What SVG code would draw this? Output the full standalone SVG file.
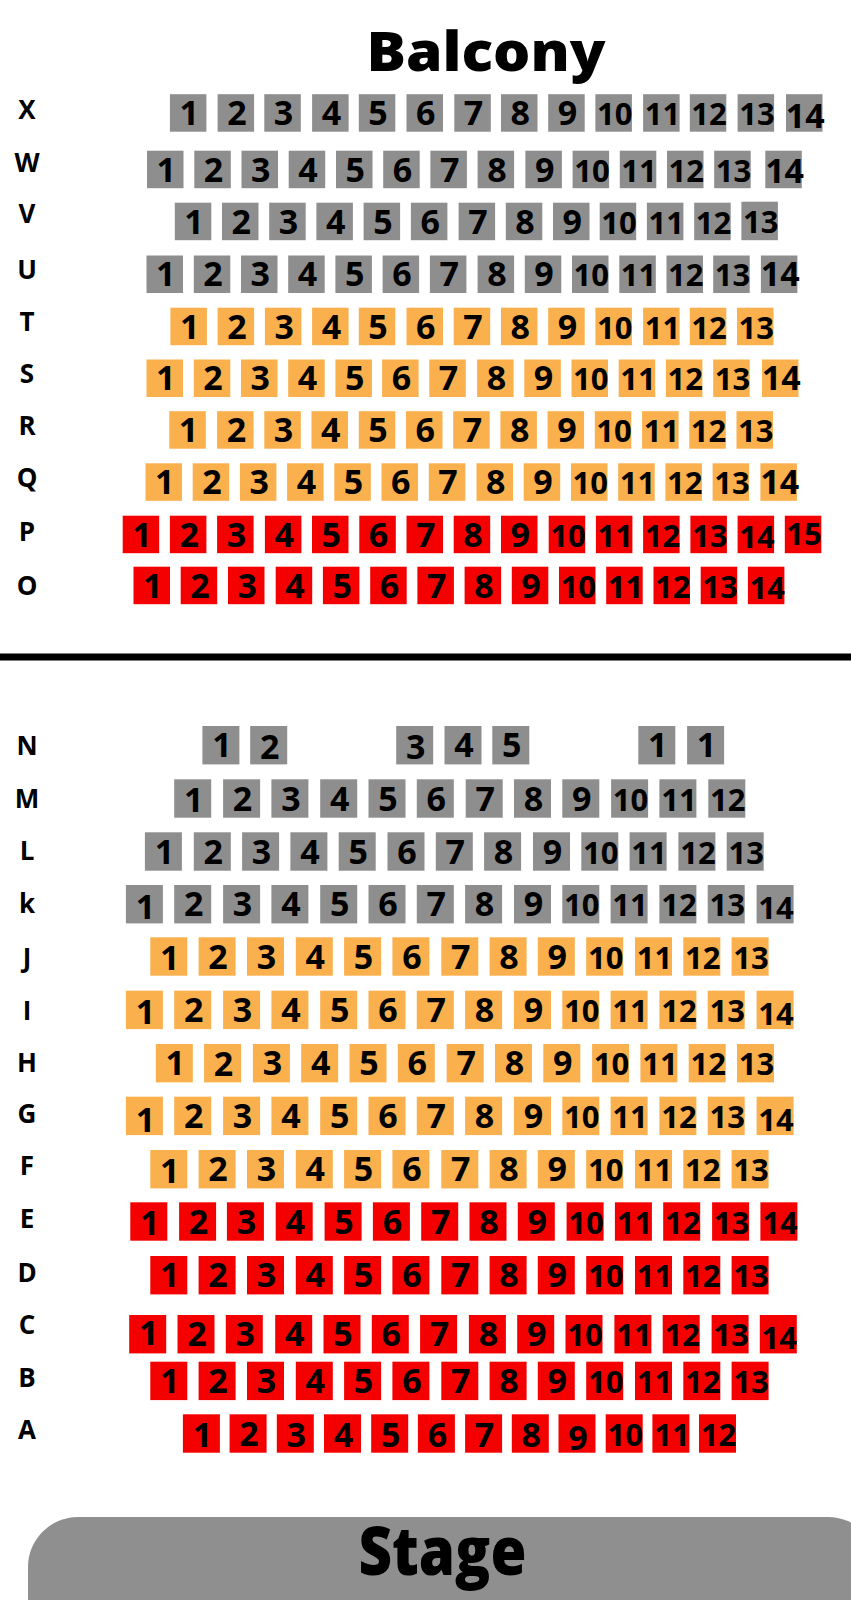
<svg xmlns="http://www.w3.org/2000/svg" width="851" height="1600" viewBox="0 0 851 1600">
<style>
text{font-family:"Open Sans","Liberation Sans",sans-serif;font-weight:700;fill:#000}
.g{fill:#8e8e8e}.o{fill:#fbb04e}.r{fill:#f50000}
.seats text{font-size:34px;text-anchor:middle}
.seats text.d{font-size:31px}
.lbl text{font-size:26px;text-anchor:middle}
.title{font-weight:800;text-anchor:middle}
</style>
<rect width="851" height="1600" fill="#fff"/>
<g id="title"><text class="title" x="486" y="71" font-size="55" textLength="239" lengthAdjust="spacingAndGlyphs">Balcony</text></g>
<g id="labels" class="lbl">
<text x="27" y="119">X</text><text x="27" y="172">W</text><text x="27" y="223">V</text><text x="27" y="279">U</text><text x="27" y="331">T</text><text x="27" y="383">S</text><text x="27" y="435">R</text><text x="27" y="487">Q</text><text x="27" y="541">P</text><text x="27" y="595">O</text>
<text x="27" y="755">N</text><text x="27" y="808">M</text><text x="27" y="860">L</text><text x="27" y="913">k</text><text x="27" y="967">J</text><text x="27" y="1020">I</text><text x="27" y="1072">H</text><text x="27" y="1123">G</text><text x="27" y="1175">F</text><text x="27" y="1228">E</text><text x="27" y="1282">D</text><text x="27" y="1334">C</text><text x="27" y="1387">B</text><text x="27" y="1439">A</text>
</g>
<g id="divider"><rect x="0" y="653.5" width="851" height="7" fill="#000"/></g>
<g id="connectors"></g>
<g class="seats">
<g id="row-X">
<g id="X1" transform="translate(169.9,94.2)"><rect class="g" width="36.5" height="37.5"/><text x="19.3" y="30.8">1</text></g>
<g id="X2" transform="translate(217.6,94.2)"><rect class="g" width="36.5" height="37.5"/><text x="19.3" y="30.8">2</text></g>
<g id="X3" transform="translate(264.3,94.2)"><rect class="g" width="36.5" height="37.5"/><text x="19.3" y="30.8">3</text></g>
<g id="X4" transform="translate(312.1,94.2)"><rect class="g" width="36.5" height="37.5"/><text x="19.3" y="30.8">4</text></g>
<g id="X5" transform="translate(358.8,94.2)"><rect class="g" width="36.5" height="37.5"/><text x="19.3" y="30.8">5</text></g>
<g id="X6" transform="translate(406.5,94.2)"><rect class="g" width="36.5" height="37.5"/><text x="19.3" y="30.8">6</text></g>
<g id="X7" transform="translate(454.3,94.2)"><rect class="g" width="36.5" height="37.5"/><text x="19.3" y="30.8">7</text></g>
<g id="X8" transform="translate(501,94.2)"><rect class="g" width="36.5" height="37.5"/><text x="19.3" y="30.8">8</text></g>
<g id="X9" transform="translate(548.2,94.2)"><rect class="g" width="36.5" height="37.5"/><text x="19.3" y="30.8">9</text></g>
<g id="X10" transform="translate(595.4,94.2)"><rect class="g" width="36.5" height="37.5"/><text class="d" x="19.3" y="30.8">10</text></g>
<g id="X11" transform="translate(643.1,94.2)"><rect class="g" width="36.5" height="37.5"/><text class="d" x="19.3" y="30.8">11</text></g>
<g id="X12" transform="translate(689.8,94.2)"><rect class="g" width="36.5" height="37.5"/><text class="d" x="19.3" y="30.8">12</text></g>
<g id="X13" transform="translate(737.6,94.2)"><rect class="g" width="36.5" height="37.5"/><text class="d" x="19.3" y="30.8">13</text></g>
<g id="X14" transform="translate(786,94.2)"><rect class="g" width="36.5" height="37.5"/><text x="19.3" y="33.8">14</text></g>
</g>
<g id="row-W">
<g id="W1" transform="translate(147,150.7)"><rect class="g" width="36.5" height="37.5"/><text x="19.3" y="30.8">1</text></g>
<g id="W2" transform="translate(194.3,150.7)"><rect class="g" width="36.5" height="37.5"/><text x="19.3" y="30.8">2</text></g>
<g id="W3" transform="translate(241.5,150.7)"><rect class="g" width="36.5" height="37.5"/><text x="19.3" y="30.8">3</text></g>
<g id="W4" transform="translate(288.7,150.7)"><rect class="g" width="36.5" height="37.5"/><text x="19.3" y="30.8">4</text></g>
<g id="W5" transform="translate(336,150.7)"><rect class="g" width="36.5" height="37.5"/><text x="19.3" y="30.8">5</text></g>
<g id="W6" transform="translate(383.2,150.7)"><rect class="g" width="36.5" height="37.5"/><text x="19.3" y="30.8">6</text></g>
<g id="W7" transform="translate(430.4,150.7)"><rect class="g" width="36.5" height="37.5"/><text x="19.3" y="30.8">7</text></g>
<g id="W8" transform="translate(477.6,150.7)"><rect class="g" width="36.5" height="37.5"/><text x="19.3" y="30.8">8</text></g>
<g id="W9" transform="translate(525.4,150.7)"><rect class="g" width="36.5" height="37.5"/><text x="19.3" y="30.8">9</text></g>
<g id="W10" transform="translate(572.6,150.7)"><rect class="g" width="36.5" height="37.5"/><text class="d" x="19.3" y="30.8">10</text></g>
<g id="W11" transform="translate(619.8,150.7)"><rect class="g" width="36.5" height="37.5"/><text class="d" x="19.3" y="30.8">11</text></g>
<g id="W12" transform="translate(667,150.7)"><rect class="g" width="36.5" height="37.5"/><text class="d" x="19.3" y="30.8">12</text></g>
<g id="W13" transform="translate(714.2,150.7)"><rect class="g" width="36.5" height="37.5"/><text class="d" x="19.3" y="30.8">13</text></g>
<g id="W14" transform="translate(765.3,150.7)"><rect class="g" width="36.5" height="37.5"/><text x="19.3" y="32.5">14</text></g>
</g>
<g id="row-V">
<g id="V1" transform="translate(174.8,202.7)"><rect class="g" width="36.5" height="37.5"/><text x="19.3" y="30.8">1</text></g>
<g id="V2" transform="translate(222,202.7)"><rect class="g" width="36.5" height="37.5"/><text x="19.3" y="30.8">2</text></g>
<g id="V3" transform="translate(269.2,202.7)"><rect class="g" width="36.5" height="37.5"/><text x="19.3" y="30.8">3</text></g>
<g id="V4" transform="translate(316.4,202.7)"><rect class="g" width="36.5" height="37.5"/><text x="19.3" y="30.8">4</text></g>
<g id="V5" transform="translate(363.6,202.7)"><rect class="g" width="36.5" height="37.5"/><text x="19.3" y="30.8">5</text></g>
<g id="V6" transform="translate(410.9,202.7)"><rect class="g" width="36.5" height="37.5"/><text x="19.3" y="30.8">6</text></g>
<g id="V7" transform="translate(458.6,202.7)"><rect class="g" width="36.5" height="37.5"/><text x="19.3" y="30.8">7</text></g>
<g id="V8" transform="translate(505.8,202.7)"><rect class="g" width="36.5" height="37.5"/><text x="19.3" y="30.8">8</text></g>
<g id="V9" transform="translate(553,202.7)"><rect class="g" width="36.5" height="37.5"/><text x="19.3" y="30.8">9</text></g>
<g id="V10" transform="translate(599.7,202.7)"><rect class="g" width="36.5" height="37.5"/><text class="d" x="19.3" y="30.8">10</text></g>
<g id="V11" transform="translate(646.9,202.7)"><rect class="g" width="36.5" height="37.5"/><text class="d" x="19.3" y="30.8">11</text></g>
<g id="V12" transform="translate(694.2,202.7)"><rect class="g" width="36.5" height="37.5"/><text class="d" x="19.3" y="30.8">12</text></g>
<g id="V13" transform="translate(741.4,201.7)"><rect class="g" width="36.5" height="38.5"/><text class="d" x="19.3" y="31.3">13</text></g>
</g>
<g id="row-U">
<g id="U1" transform="translate(146.5,255.5)"><rect class="g" width="36.5" height="37.5"/><text x="19.3" y="30.8">1</text></g>
<g id="U2" transform="translate(193.8,255.5)"><rect class="g" width="36.5" height="37.5"/><text x="19.3" y="30.8">2</text></g>
<g id="U3" transform="translate(241,255.5)"><rect class="g" width="36.5" height="37.5"/><text x="19.3" y="30.8">3</text></g>
<g id="U4" transform="translate(288.2,255.5)"><rect class="g" width="36.5" height="37.5"/><text x="19.3" y="30.8">4</text></g>
<g id="U5" transform="translate(335.4,255.5)"><rect class="g" width="36.5" height="37.5"/><text x="19.3" y="30.8">5</text></g>
<g id="U6" transform="translate(382.6,255.5)"><rect class="g" width="36.5" height="37.5"/><text x="19.3" y="30.8">6</text></g>
<g id="U7" transform="translate(429.9,255.5)"><rect class="g" width="36.5" height="37.5"/><text x="19.3" y="30.8">7</text></g>
<g id="U8" transform="translate(477.6,255.5)"><rect class="g" width="36.5" height="37.5"/><text x="19.3" y="30.8">8</text></g>
<g id="U9" transform="translate(524.8,255.5)"><rect class="g" width="36.5" height="37.5"/><text x="19.3" y="30.8">9</text></g>
<g id="U10" transform="translate(572,255.5)"><rect class="g" width="36.5" height="37.5"/><text class="d" x="19.3" y="30.8">10</text></g>
<g id="U11" transform="translate(619.3,255.5)"><rect class="g" width="36.5" height="37.5"/><text class="d" x="19.3" y="30.8">11</text></g>
<g id="U12" transform="translate(666.5,255.5)"><rect class="g" width="36.5" height="37.5"/><text class="d" x="19.3" y="30.8">12</text></g>
<g id="U13" transform="translate(713.2,255.5)"><rect class="g" width="36.5" height="37.5"/><text class="d" x="19.3" y="30.8">13</text></g>
<g id="U14" transform="translate(760.9,255.5)"><rect class="g" width="36.5" height="37.5"/><text x="19.3" y="30.8">14</text></g>
</g>
<g id="row-T">
<g id="T1" transform="translate(170.4,307.7)"><rect class="o" width="36.5" height="37.5"/><text x="19.3" y="30.8">1</text></g>
<g id="T2" transform="translate(217.6,307.7)"><rect class="o" width="36.5" height="37.5"/><text x="19.3" y="30.8">2</text></g>
<g id="T3" transform="translate(264.9,307.7)"><rect class="o" width="36.5" height="37.5"/><text x="19.3" y="30.8">3</text></g>
<g id="T4" transform="translate(312.1,307.7)"><rect class="o" width="36.5" height="37.5"/><text x="19.3" y="30.8">4</text></g>
<g id="T5" transform="translate(358.8,307.7)"><rect class="o" width="36.5" height="37.5"/><text x="19.3" y="30.8">5</text></g>
<g id="T6" transform="translate(406.5,307.7)"><rect class="o" width="36.5" height="37.5"/><text x="19.3" y="30.8">6</text></g>
<g id="T7" transform="translate(453.7,307.7)"><rect class="o" width="36.5" height="37.5"/><text x="19.3" y="30.8">7</text></g>
<g id="T8" transform="translate(501,307.7)"><rect class="o" width="36.5" height="37.5"/><text x="19.3" y="30.8">8</text></g>
<g id="T9" transform="translate(548.2,307.7)"><rect class="o" width="36.5" height="37.5"/><text x="19.3" y="30.8">9</text></g>
<g id="T10" transform="translate(595.4,307.7)"><rect class="o" width="36.5" height="37.5"/><text class="d" x="19.3" y="30.8">10</text></g>
<g id="T11" transform="translate(643.1,307.7)"><rect class="o" width="36.5" height="37.5"/><text class="d" x="19.3" y="30.8">11</text></g>
<g id="T12" transform="translate(689.8,307.7)"><rect class="o" width="36.5" height="37.5"/><text class="d" x="19.3" y="30.8">12</text></g>
<g id="T13" transform="translate(737,307.7)"><rect class="o" width="36.5" height="37.5"/><text class="d" x="19.3" y="30.8">13</text></g>
</g>
<g id="row-S">
<g id="S1" transform="translate(146.5,359.5)"><rect class="o" width="36.5" height="37.5"/><text x="19.3" y="30.8">1</text></g>
<g id="S2" transform="translate(193.8,359.5)"><rect class="o" width="36.5" height="37.5"/><text x="19.3" y="30.8">2</text></g>
<g id="S3" transform="translate(241,359.5)"><rect class="o" width="36.5" height="37.5"/><text x="19.3" y="30.8">3</text></g>
<g id="S4" transform="translate(288.2,359.5)"><rect class="o" width="36.5" height="37.5"/><text x="19.3" y="30.8">4</text></g>
<g id="S5" transform="translate(335.4,359.5)"><rect class="o" width="36.5" height="37.5"/><text x="19.3" y="30.8">5</text></g>
<g id="S6" transform="translate(382.1,359.5)"><rect class="o" width="36.5" height="37.5"/><text x="19.3" y="30.8">6</text></g>
<g id="S7" transform="translate(429.3,359.5)"><rect class="o" width="36.5" height="37.5"/><text x="19.3" y="30.8">7</text></g>
<g id="S8" transform="translate(477.1,359.5)"><rect class="o" width="36.5" height="37.5"/><text x="19.3" y="30.8">8</text></g>
<g id="S9" transform="translate(524.3,359.5)"><rect class="o" width="36.5" height="37.5"/><text x="19.3" y="30.8">9</text></g>
<g id="S10" transform="translate(571.5,359.5)"><rect class="o" width="36.5" height="37.5"/><text class="d" x="19.3" y="30.8">10</text></g>
<g id="S11" transform="translate(618.7,359.5)"><rect class="o" width="36.5" height="37.5"/><text class="d" x="19.3" y="30.8">11</text></g>
<g id="S12" transform="translate(665.9,359.5)"><rect class="o" width="36.5" height="37.5"/><text class="d" x="19.3" y="30.8">12</text></g>
<g id="S13" transform="translate(713.2,359.5)"><rect class="o" width="36.5" height="37.5"/><text class="d" x="19.3" y="30.8">13</text></g>
<g id="S14" transform="translate(762,359.5)"><rect class="o" width="36.5" height="37.5"/><text x="19.3" y="30.8">14</text></g>
</g>
<g id="row-R">
<g id="R1" transform="translate(169.3,411.2)"><rect class="o" width="36.5" height="37.5"/><text x="19.3" y="30.8">1</text></g>
<g id="R2" transform="translate(217.1,411.2)"><rect class="o" width="36.5" height="37.5"/><text x="19.3" y="30.8">2</text></g>
<g id="R3" transform="translate(264.3,411.2)"><rect class="o" width="36.5" height="37.5"/><text x="19.3" y="30.8">3</text></g>
<g id="R4" transform="translate(311.5,411.2)"><rect class="o" width="36.5" height="37.5"/><text x="19.3" y="30.8">4</text></g>
<g id="R5" transform="translate(358.8,411.2)"><rect class="o" width="36.5" height="37.5"/><text x="19.3" y="30.8">5</text></g>
<g id="R6" transform="translate(406,411.2)"><rect class="o" width="36.5" height="37.5"/><text x="19.3" y="30.8">6</text></g>
<g id="R7" transform="translate(453.2,411.2)"><rect class="o" width="36.5" height="37.5"/><text x="19.3" y="30.8">7</text></g>
<g id="R8" transform="translate(500.4,411.2)"><rect class="o" width="36.5" height="37.5"/><text x="19.3" y="30.8">8</text></g>
<g id="R9" transform="translate(547.6,411.2)"><rect class="o" width="36.5" height="37.5"/><text x="19.3" y="30.8">9</text></g>
<g id="R10" transform="translate(594.8,411.2)"><rect class="o" width="36.5" height="37.5"/><text class="d" x="19.3" y="30.8">10</text></g>
<g id="R11" transform="translate(642.1,411.2)"><rect class="o" width="36.5" height="37.5"/><text class="d" x="19.3" y="30.8">11</text></g>
<g id="R12" transform="translate(689.3,411.2)"><rect class="o" width="36.5" height="37.5"/><text class="d" x="19.3" y="30.8">12</text></g>
<g id="R13" transform="translate(736.5,411.2)"><rect class="o" width="36.5" height="37.5"/><text class="d" x="19.3" y="30.8">13</text></g>
</g>
<g id="row-Q">
<g id="Q1" transform="translate(145.5,463.3)"><rect class="o" width="36.5" height="37.5"/><text x="19.3" y="30.8">1</text></g>
<g id="Q2" transform="translate(192.7,463.3)"><rect class="o" width="36.5" height="37.5"/><text x="19.3" y="30.8">2</text></g>
<g id="Q3" transform="translate(239.9,463.3)"><rect class="o" width="36.5" height="37.5"/><text x="19.3" y="30.8">3</text></g>
<g id="Q4" transform="translate(287.1,463.3)"><rect class="o" width="36.5" height="37.5"/><text x="19.3" y="30.8">4</text></g>
<g id="Q5" transform="translate(334.3,463.3)"><rect class="o" width="36.5" height="37.5"/><text x="19.3" y="30.8">5</text></g>
<g id="Q6" transform="translate(381.5,463.3)"><rect class="o" width="36.5" height="37.5"/><text x="19.3" y="30.8">6</text></g>
<g id="Q7" transform="translate(428.8,463.3)"><rect class="o" width="36.5" height="37.5"/><text x="19.3" y="30.8">7</text></g>
<g id="Q8" transform="translate(476.5,463.3)"><rect class="o" width="36.5" height="37.5"/><text x="19.3" y="30.8">8</text></g>
<g id="Q9" transform="translate(523.7,463.3)"><rect class="o" width="36.5" height="37.5"/><text x="19.3" y="30.8">9</text></g>
<g id="Q10" transform="translate(571,463.3)"><rect class="o" width="36.5" height="37.5"/><text class="d" x="19.3" y="30.8">10</text></g>
<g id="Q11" transform="translate(618.2,463.3)"><rect class="o" width="36.5" height="37.5"/><text class="d" x="19.3" y="30.8">11</text></g>
<g id="Q12" transform="translate(665.4,463.3)"><rect class="o" width="36.5" height="37.5"/><text class="d" x="19.3" y="30.8">12</text></g>
<g id="Q13" transform="translate(712.6,463.3)"><rect class="o" width="36.5" height="37.5"/><text class="d" x="19.3" y="30.8">13</text></g>
<g id="Q14" transform="translate(760.4,463.3)"><rect class="o" width="36.5" height="37.5"/><text x="19.3" y="30.8">14</text></g>
</g>
<g id="row-P">
<g id="P1" transform="translate(122.7,515.7)"><rect class="r" width="36.5" height="37.5"/><text x="19.3" y="30.8">1</text></g>
<g id="P2" transform="translate(169.9,515.7)"><rect class="r" width="36.5" height="37.5"/><text x="19.3" y="30.8">2</text></g>
<g id="P3" transform="translate(217.1,515.7)"><rect class="r" width="36.5" height="37.5"/><text x="19.3" y="30.8">3</text></g>
<g id="P4" transform="translate(264.9,515.7)"><rect class="r" width="36.5" height="37.5"/><text x="19.3" y="30.8">4</text></g>
<g id="P5" transform="translate(312,515.7)"><rect class="r" width="36.5" height="37.5"/><text x="19.3" y="30.8">5</text></g>
<g id="P6" transform="translate(359.3,515.7)"><rect class="r" width="36.5" height="37.5"/><text x="19.3" y="30.8">6</text></g>
<g id="P7" transform="translate(406.5,515.7)"><rect class="r" width="36.5" height="37.5"/><text x="19.3" y="30.8">7</text></g>
<g id="P8" transform="translate(453.7,515.7)"><rect class="r" width="36.5" height="37.5"/><text x="19.3" y="30.8">8</text></g>
<g id="P9" transform="translate(501,515.7)"><rect class="r" width="36.5" height="37.5"/><text x="19.3" y="30.8">9</text></g>
<g id="P10" transform="translate(548.7,515.7)"><rect class="r" width="36.5" height="37.5"/><text class="d" x="19.3" y="30.8">10</text></g>
<g id="P11" transform="translate(595.9,515.7)"><rect class="r" width="36.5" height="37.5"/><text class="d" x="19.3" y="30.8">11</text></g>
<g id="P12" transform="translate(643.1,515.7)"><rect class="r" width="36.5" height="37.5"/><text class="d" x="19.3" y="30.8">12</text></g>
<g id="P13" transform="translate(690.4,515.7)"><rect class="r" width="36.5" height="37.5"/><text class="d" x="19.3" y="30.8">13</text></g>
<g id="P14" transform="translate(737.6,515.7)"><rect class="r" width="36.5" height="37.5"/><text class="d" x="19.3" y="31.8">14</text></g>
<g id="P15" transform="translate(784.8,515.7)"><rect class="r" width="36.5" height="37.5"/><text class="d" x="19.3" y="29.5">15</text></g>
</g>
<g id="row-O">
<g id="O1" transform="translate(133.5,566.7)"><rect class="r" width="36.5" height="37.5"/><text x="19.3" y="30.8">1</text></g>
<g id="O2" transform="translate(180.7,566.7)"><rect class="r" width="36.5" height="37.5"/><text x="19.3" y="30.8">2</text></g>
<g id="O3" transform="translate(228,566.7)"><rect class="r" width="36.5" height="37.5"/><text x="19.3" y="30.8">3</text></g>
<g id="O4" transform="translate(275.7,566.7)"><rect class="r" width="36.5" height="37.5"/><text x="19.3" y="30.8">4</text></g>
<g id="O5" transform="translate(322.9,566.7)"><rect class="r" width="36.5" height="37.5"/><text x="19.3" y="30.8">5</text></g>
<g id="O6" transform="translate(370.2,566.7)"><rect class="r" width="36.5" height="37.5"/><text x="19.3" y="30.8">6</text></g>
<g id="O7" transform="translate(417.4,566.7)"><rect class="r" width="36.5" height="37.5"/><text x="19.3" y="30.8">7</text></g>
<g id="O8" transform="translate(464.6,566.7)"><rect class="r" width="36.5" height="37.5"/><text x="19.3" y="30.8">8</text></g>
<g id="O9" transform="translate(511.8,566.7)"><rect class="r" width="36.5" height="37.5"/><text x="19.3" y="30.8">9</text></g>
<g id="O10" transform="translate(559,566.7)"><rect class="r" width="36.5" height="37.5"/><text class="d" x="19.3" y="30.8">10</text></g>
<g id="O11" transform="translate(606.2,566.7)"><rect class="r" width="36.5" height="37.5"/><text class="d" x="19.3" y="30.8">11</text></g>
<g id="O12" transform="translate(653.5,566.7)"><rect class="r" width="36.5" height="37.5"/><text class="d" x="19.3" y="30.8">12</text></g>
<g id="O13" transform="translate(700.7,566.7)"><rect class="r" width="36.5" height="37.5"/><text class="d" x="19.3" y="30.8">13</text></g>
<g id="O14" transform="translate(747.9,566.7)"><rect class="r" width="36.5" height="37.5"/><text class="d" x="19.3" y="32.5">14</text></g>
</g>
<g id="row-N">
<g id="N1" transform="translate(202.4,726)"><rect class="g" width="37" height="38.4"/><text x="19.5" y="31.4">1</text></g>
<g id="N2" transform="translate(250.2,726)"><rect class="g" width="37" height="38.4"/><text x="19.5" y="32.5">2</text></g>
<g id="N3" transform="translate(396.2,726)"><rect class="g" width="37" height="38.4"/><text x="19.5" y="32.5">3</text></g>
<g id="N4" transform="translate(444.5,726)"><rect class="g" width="37" height="38.4"/><text x="19.5" y="31.4">4</text></g>
<g id="N5" transform="translate(492.3,726)"><rect class="g" width="37" height="38.4"/><text x="19.5" y="31.4">5</text></g>
<g id="N6" transform="translate(638.3,726)"><rect class="g" width="37" height="38.4"/><text x="19.5" y="31.4">1</text></g>
<g id="N7" transform="translate(687.1,726)"><rect class="g" width="37" height="38.4"/><text x="19.5" y="31.4">1</text></g>
</g>
<g id="row-M">
<g id="M1" transform="translate(174.2,779.3)"><rect class="g" width="37" height="38.4"/><text x="19.5" y="32.5">1</text></g>
<g id="M2" transform="translate(223.1,779.3)"><rect class="g" width="37" height="38.4"/><text x="19.5" y="31.4">2</text></g>
<g id="M3" transform="translate(271.4,779.3)"><rect class="g" width="37" height="38.4"/><text x="19.5" y="31.4">3</text></g>
<g id="M4" transform="translate(320.2,779.3)"><rect class="g" width="37" height="38.4"/><text x="19.5" y="31.4">4</text></g>
<g id="M5" transform="translate(368.5,779.3)"><rect class="g" width="37" height="38.4"/><text x="19.5" y="31.4">5</text></g>
<g id="M6" transform="translate(416.8,779.3)"><rect class="g" width="37" height="38.4"/><text x="19.5" y="31.4">6</text></g>
<g id="M7" transform="translate(465.7,779.3)"><rect class="g" width="37" height="38.4"/><text x="19.5" y="31.4">7</text></g>
<g id="M8" transform="translate(514,779.3)"><rect class="g" width="37" height="38.4"/><text x="19.5" y="31.4">8</text></g>
<g id="M9" transform="translate(562.3,779.3)"><rect class="g" width="37" height="38.4"/><text x="19.5" y="31.4">9</text></g>
<g id="M10" transform="translate(611.1,779.3)"><rect class="g" width="37" height="38.4"/><text class="d" x="19.5" y="31.4">10</text></g>
<g id="M11" transform="translate(659.4,779.3)"><rect class="g" width="37" height="38.4"/><text class="d" x="19.5" y="31.4">11</text></g>
<g id="M12" transform="translate(708.3,779.3)"><rect class="g" width="37" height="38.4"/><text class="d" x="19.5" y="31.4">12</text></g>
</g>
<g id="row-L">
<g id="L1" transform="translate(144.9,832.3)"><rect class="g" width="37" height="38.4"/><text x="19.5" y="31.4">1</text></g>
<g id="L2" transform="translate(193.8,832.3)"><rect class="g" width="37" height="38.4"/><text x="19.5" y="31.4">2</text></g>
<g id="L3" transform="translate(242.1,832.3)"><rect class="g" width="37" height="38.4"/><text x="19.5" y="31.4">3</text></g>
<g id="L4" transform="translate(290.4,832.3)"><rect class="g" width="37" height="38.4"/><text x="19.5" y="31.4">4</text></g>
<g id="L5" transform="translate(338.7,832.3)"><rect class="g" width="37" height="38.4"/><text x="19.5" y="31.4">5</text></g>
<g id="L6" transform="translate(387.5,832.3)"><rect class="g" width="37" height="38.4"/><text x="19.5" y="31.4">6</text></g>
<g id="L7" transform="translate(435.8,832.3)"><rect class="g" width="37" height="38.4"/><text x="19.5" y="31.4">7</text></g>
<g id="L8" transform="translate(484.1,832.3)"><rect class="g" width="37" height="38.4"/><text x="19.5" y="31.4">8</text></g>
<g id="L9" transform="translate(533,832.3)"><rect class="g" width="37" height="38.4"/><text x="19.5" y="31.4">9</text></g>
<g id="L10" transform="translate(581.3,832.3)"><rect class="g" width="37" height="38.4"/><text class="d" x="19.5" y="31.4">10</text></g>
<g id="L11" transform="translate(629.6,832.3)"><rect class="g" width="37" height="38.4"/><text class="d" x="19.5" y="31.4">11</text></g>
<g id="L12" transform="translate(678.4,832.3)"><rect class="g" width="37" height="38.4"/><text class="d" x="19.5" y="31.4">12</text></g>
<g id="L13" transform="translate(726.7,832.3)"><rect class="g" width="37" height="38.4"/><text class="d" x="19.5" y="31.4">13</text></g>
</g>
<g id="row-k">
<g id="k1" transform="translate(125.9,885)"><rect class="g" width="37" height="38.4"/><text x="19.5" y="34.4">1</text></g>
<g id="k2" transform="translate(174.2,885)"><rect class="g" width="37" height="38.4"/><text x="19.5" y="31.4">2</text></g>
<g id="k3" transform="translate(223.1,885)"><rect class="g" width="37" height="38.4"/><text x="19.5" y="31.4">3</text></g>
<g id="k4" transform="translate(271.4,885)"><rect class="g" width="37" height="38.4"/><text x="19.5" y="31.4">4</text></g>
<g id="k5" transform="translate(320.2,885)"><rect class="g" width="37" height="38.4"/><text x="19.5" y="31.4">5</text></g>
<g id="k6" transform="translate(368.5,885)"><rect class="g" width="37" height="38.4"/><text x="19.5" y="31.4">6</text></g>
<g id="k7" transform="translate(416.8,885)"><rect class="g" width="37" height="38.4"/><text x="19.5" y="31.4">7</text></g>
<g id="k8" transform="translate(465.1,885)"><rect class="g" width="37" height="38.4"/><text x="19.5" y="31.4">8</text></g>
<g id="k9" transform="translate(514,885)"><rect class="g" width="37" height="38.4"/><text x="19.5" y="31.4">9</text></g>
<g id="k10" transform="translate(562.3,885)"><rect class="g" width="37" height="38.4"/><text class="d" x="19.5" y="31.4">10</text></g>
<g id="k11" transform="translate(610.6,885)"><rect class="g" width="37" height="38.4"/><text class="d" x="19.5" y="31.4">11</text></g>
<g id="k12" transform="translate(659.4,885)"><rect class="g" width="37" height="38.4"/><text class="d" x="19.5" y="31.4">12</text></g>
<g id="k13" transform="translate(707.7,885)"><rect class="g" width="37" height="38.4"/><text class="d" x="19.5" y="31.4">13</text></g>
<g id="k14" transform="translate(756.6,885)"><rect class="g" width="37" height="38.4"/><text class="d" x="19.5" y="34.4">14</text></g>
</g>
<g id="row-J">
<g id="J1" transform="translate(150.3,937.3)"><rect class="o" width="37" height="38.4"/><text x="19.5" y="32.5">1</text></g>
<g id="J2" transform="translate(198.6,937.3)"><rect class="o" width="37" height="38.4"/><text x="19.5" y="31.4">2</text></g>
<g id="J3" transform="translate(247,937.3)"><rect class="o" width="37" height="38.4"/><text x="19.5" y="31.4">3</text></g>
<g id="J4" transform="translate(295.8,937.3)"><rect class="o" width="37" height="38.4"/><text x="19.5" y="31.4">4</text></g>
<g id="J5" transform="translate(344.1,937.3)"><rect class="o" width="37" height="38.4"/><text x="19.5" y="31.4">5</text></g>
<g id="J6" transform="translate(392.4,937.3)"><rect class="o" width="37" height="38.4"/><text x="19.5" y="31.4">6</text></g>
<g id="J7" transform="translate(441.3,937.3)"><rect class="o" width="37" height="38.4"/><text x="19.5" y="31.4">7</text></g>
<g id="J8" transform="translate(489.6,937.3)"><rect class="o" width="37" height="38.4"/><text x="19.5" y="31.4">8</text></g>
<g id="J9" transform="translate(537.8,937.3)"><rect class="o" width="37" height="38.4"/><text x="19.5" y="31.4">9</text></g>
<g id="J10" transform="translate(586.2,937.3)"><rect class="o" width="37" height="38.4"/><text class="d" x="19.5" y="31.4">10</text></g>
<g id="J11" transform="translate(635,937.3)"><rect class="o" width="37" height="38.4"/><text class="d" x="19.5" y="31.4">11</text></g>
<g id="J12" transform="translate(683.3,937.3)"><rect class="o" width="37" height="38.4"/><text class="d" x="19.5" y="31.4">12</text></g>
<g id="J13" transform="translate(731.6,937.3)"><rect class="o" width="37" height="38.4"/><text class="d" x="19.5" y="31.4">13</text></g>
</g>
<g id="row-I">
<g id="I1" transform="translate(125.9,990.7)"><rect class="o" width="37" height="38.4"/><text x="19.5" y="33.4">1</text></g>
<g id="I2" transform="translate(174.2,990.7)"><rect class="o" width="37" height="38.4"/><text x="19.5" y="31.4">2</text></g>
<g id="I3" transform="translate(223.1,990.7)"><rect class="o" width="37" height="38.4"/><text x="19.5" y="31.4">3</text></g>
<g id="I4" transform="translate(271.4,990.7)"><rect class="o" width="37" height="38.4"/><text x="19.5" y="31.4">4</text></g>
<g id="I5" transform="translate(320.2,990.7)"><rect class="o" width="37" height="38.4"/><text x="19.5" y="31.4">5</text></g>
<g id="I6" transform="translate(368.5,990.7)"><rect class="o" width="37" height="38.4"/><text x="19.5" y="31.4">6</text></g>
<g id="I7" transform="translate(416.8,990.7)"><rect class="o" width="37" height="38.4"/><text x="19.5" y="31.4">7</text></g>
<g id="I8" transform="translate(465.1,990.7)"><rect class="o" width="37" height="38.4"/><text x="19.5" y="31.4">8</text></g>
<g id="I9" transform="translate(514,990.7)"><rect class="o" width="37" height="38.4"/><text x="19.5" y="31.4">9</text></g>
<g id="I10" transform="translate(562.3,990.7)"><rect class="o" width="37" height="38.4"/><text class="d" x="19.5" y="31.4">10</text></g>
<g id="I11" transform="translate(610.6,990.7)"><rect class="o" width="37" height="38.4"/><text class="d" x="19.5" y="31.4">11</text></g>
<g id="I12" transform="translate(659.4,990.7)"><rect class="o" width="37" height="38.4"/><text class="d" x="19.5" y="31.4">12</text></g>
<g id="I13" transform="translate(707.7,990.7)"><rect class="o" width="37" height="38.4"/><text class="d" x="19.5" y="31.4">13</text></g>
<g id="I14" transform="translate(756.6,990.7)"><rect class="o" width="37" height="38.4"/><text class="d" x="19.5" y="34.4">14</text></g>
</g>
<g id="row-H">
<g id="H1" transform="translate(155.8,1044)"><rect class="o" width="37" height="38.4"/><text x="19.5" y="31.4">1</text></g>
<g id="H2" transform="translate(204.1,1044)"><rect class="o" width="37" height="38.4"/><text x="19.5" y="32.4">2</text></g>
<g id="H3" transform="translate(252.9,1044)"><rect class="o" width="37" height="38.4"/><text x="19.5" y="31.4">3</text></g>
<g id="H4" transform="translate(301.2,1044)"><rect class="o" width="37" height="38.4"/><text x="19.5" y="31.4">4</text></g>
<g id="H5" transform="translate(349.5,1044)"><rect class="o" width="37" height="38.4"/><text x="19.5" y="31.4">5</text></g>
<g id="H6" transform="translate(397.8,1044)"><rect class="o" width="37" height="38.4"/><text x="19.5" y="31.4">6</text></g>
<g id="H7" transform="translate(446.7,1044)"><rect class="o" width="37" height="38.4"/><text x="19.5" y="31.4">7</text></g>
<g id="H8" transform="translate(495,1044)"><rect class="o" width="37" height="38.4"/><text x="19.5" y="31.4">8</text></g>
<g id="H9" transform="translate(543.3,1044)"><rect class="o" width="37" height="38.4"/><text x="19.5" y="31.4">9</text></g>
<g id="H10" transform="translate(592.1,1044)"><rect class="o" width="37" height="38.4"/><text class="d" x="19.5" y="31.4">10</text></g>
<g id="H11" transform="translate(640.4,1044)"><rect class="o" width="37" height="38.4"/><text class="d" x="19.5" y="31.4">11</text></g>
<g id="H12" transform="translate(688.7,1044)"><rect class="o" width="37" height="38.4"/><text class="d" x="19.5" y="31.4">12</text></g>
<g id="H13" transform="translate(737,1044)"><rect class="o" width="37" height="38.4"/><text class="d" x="19.5" y="31.4">13</text></g>
</g>
<g id="row-G">
<g id="G1" transform="translate(125.9,1096.7)"><rect class="o" width="37" height="38.4"/><text x="19.5" y="35.4">1</text></g>
<g id="G2" transform="translate(174.2,1096.7)"><rect class="o" width="37" height="38.4"/><text x="19.5" y="31.4">2</text></g>
<g id="G3" transform="translate(223.1,1096.7)"><rect class="o" width="37" height="38.4"/><text x="19.5" y="31.4">3</text></g>
<g id="G4" transform="translate(271.4,1096.7)"><rect class="o" width="37" height="38.4"/><text x="19.5" y="31.4">4</text></g>
<g id="G5" transform="translate(320.2,1096.7)"><rect class="o" width="37" height="38.4"/><text x="19.5" y="31.4">5</text></g>
<g id="G6" transform="translate(368.5,1096.7)"><rect class="o" width="37" height="38.4"/><text x="19.5" y="31.4">6</text></g>
<g id="G7" transform="translate(416.8,1096.7)"><rect class="o" width="37" height="38.4"/><text x="19.5" y="31.4">7</text></g>
<g id="G8" transform="translate(465.1,1096.7)"><rect class="o" width="37" height="38.4"/><text x="19.5" y="31.4">8</text></g>
<g id="G9" transform="translate(514,1096.7)"><rect class="o" width="37" height="38.4"/><text x="19.5" y="31.4">9</text></g>
<g id="G10" transform="translate(562.3,1096.7)"><rect class="o" width="37" height="38.4"/><text class="d" x="19.5" y="31.4">10</text></g>
<g id="G11" transform="translate(610.6,1096.7)"><rect class="o" width="37" height="38.4"/><text class="d" x="19.5" y="31.4">11</text></g>
<g id="G12" transform="translate(659.4,1096.7)"><rect class="o" width="37" height="38.4"/><text class="d" x="19.5" y="31.4">12</text></g>
<g id="G13" transform="translate(707.7,1096.7)"><rect class="o" width="37" height="38.4"/><text class="d" x="19.5" y="31.4">13</text></g>
<g id="G14" transform="translate(756.6,1096.7)"><rect class="o" width="37" height="38.4"/><text class="d" x="19.5" y="34.4">14</text></g>
</g>
<g id="row-F">
<g id="F1" transform="translate(150.3,1150)"><rect class="o" width="37" height="38.4"/><text x="19.5" y="32.5">1</text></g>
<g id="F2" transform="translate(198.6,1150)"><rect class="o" width="37" height="38.4"/><text x="19.5" y="31.4">2</text></g>
<g id="F3" transform="translate(247,1150)"><rect class="o" width="37" height="38.4"/><text x="19.5" y="31.4">3</text></g>
<g id="F4" transform="translate(295.8,1150)"><rect class="o" width="37" height="38.4"/><text x="19.5" y="31.4">4</text></g>
<g id="F5" transform="translate(344.1,1150)"><rect class="o" width="37" height="38.4"/><text x="19.5" y="31.4">5</text></g>
<g id="F6" transform="translate(392.4,1150)"><rect class="o" width="37" height="38.4"/><text x="19.5" y="31.4">6</text></g>
<g id="F7" transform="translate(441.3,1150)"><rect class="o" width="37" height="38.4"/><text x="19.5" y="31.4">7</text></g>
<g id="F8" transform="translate(489.6,1150)"><rect class="o" width="37" height="38.4"/><text x="19.5" y="31.4">8</text></g>
<g id="F9" transform="translate(537.8,1150)"><rect class="o" width="37" height="38.4"/><text x="19.5" y="31.4">9</text></g>
<g id="F10" transform="translate(586.2,1150)"><rect class="o" width="37" height="38.4"/><text class="d" x="19.5" y="31.4">10</text></g>
<g id="F11" transform="translate(635,1150)"><rect class="o" width="37" height="38.4"/><text class="d" x="19.5" y="31.4">11</text></g>
<g id="F12" transform="translate(683.3,1150)"><rect class="o" width="37" height="38.4"/><text class="d" x="19.5" y="31.4">12</text></g>
<g id="F13" transform="translate(731.6,1150)"><rect class="o" width="37" height="38.4"/><text class="d" x="19.5" y="31.4">13</text></g>
</g>
<g id="row-E">
<g id="E1" transform="translate(130.3,1202.3)"><rect class="r" width="37" height="38.4"/><text x="19.5" y="32.5">1</text></g>
<g id="E2" transform="translate(179.1,1202.3)"><rect class="r" width="37" height="38.4"/><text x="19.5" y="31.4">2</text></g>
<g id="E3" transform="translate(226.9,1202.3)"><rect class="r" width="37" height="38.4"/><text x="19.5" y="31.4">3</text></g>
<g id="E4" transform="translate(275.7,1202.3)"><rect class="r" width="37" height="38.4"/><text x="19.5" y="31.4">4</text></g>
<g id="E5" transform="translate(324.6,1202.3)"><rect class="r" width="37" height="38.4"/><text x="19.5" y="31.4">5</text></g>
<g id="E6" transform="translate(372.9,1202.3)"><rect class="r" width="37" height="38.4"/><text x="19.5" y="31.4">6</text></g>
<g id="E7" transform="translate(421.2,1202.3)"><rect class="r" width="37" height="38.4"/><text x="19.5" y="31.4">7</text></g>
<g id="E8" transform="translate(469.5,1202.3)"><rect class="r" width="37" height="38.4"/><text x="19.5" y="31.4">8</text></g>
<g id="E9" transform="translate(517.8,1202.3)"><rect class="r" width="37" height="38.4"/><text x="19.5" y="31.4">9</text></g>
<g id="E10" transform="translate(566.6,1202.3)"><rect class="r" width="37" height="38.4"/><text class="d" x="19.5" y="31.4">10</text></g>
<g id="E11" transform="translate(614.9,1202.3)"><rect class="r" width="37" height="38.4"/><text class="d" x="19.5" y="31.4">11</text></g>
<g id="E12" transform="translate(663.2,1202.3)"><rect class="r" width="37" height="38.4"/><text class="d" x="19.5" y="31.4">12</text></g>
<g id="E13" transform="translate(712.1,1202.3)"><rect class="r" width="37" height="38.4"/><text class="d" x="19.5" y="31.4">13</text></g>
<g id="E14" transform="translate(760.4,1202.3)"><rect class="r" width="37" height="38.4"/><text class="d" x="19.5" y="31.4">14</text></g>
</g>
<g id="row-D">
<g id="D1" transform="translate(150.3,1256)"><rect class="r" width="37" height="38.4"/><text x="19.5" y="31.4">1</text></g>
<g id="D2" transform="translate(198.6,1256)"><rect class="r" width="37" height="38.4"/><text x="19.5" y="31.4">2</text></g>
<g id="D3" transform="translate(247,1256)"><rect class="r" width="37" height="38.4"/><text x="19.5" y="31.4">3</text></g>
<g id="D4" transform="translate(295.8,1256)"><rect class="r" width="37" height="38.4"/><text x="19.5" y="31.4">4</text></g>
<g id="D5" transform="translate(344.1,1256)"><rect class="r" width="37" height="38.4"/><text x="19.5" y="31.4">5</text></g>
<g id="D6" transform="translate(392.4,1256)"><rect class="r" width="37" height="38.4"/><text x="19.5" y="31.4">6</text></g>
<g id="D7" transform="translate(441.3,1256)"><rect class="r" width="37" height="38.4"/><text x="19.5" y="31.4">7</text></g>
<g id="D8" transform="translate(489.6,1256)"><rect class="r" width="37" height="38.4"/><text x="19.5" y="31.4">8</text></g>
<g id="D9" transform="translate(537.8,1256)"><rect class="r" width="37" height="38.4"/><text x="19.5" y="31.4">9</text></g>
<g id="D10" transform="translate(586.2,1256)"><rect class="r" width="37" height="38.4"/><text class="d" x="19.5" y="31.4">10</text></g>
<g id="D11" transform="translate(635,1256)"><rect class="r" width="37" height="38.4"/><text class="d" x="19.5" y="31.4">11</text></g>
<g id="D12" transform="translate(683.3,1256)"><rect class="r" width="37" height="38.4"/><text class="d" x="19.5" y="31.4">12</text></g>
<g id="D13" transform="translate(731.6,1256)"><rect class="r" width="37" height="38.4"/><text class="d" x="19.5" y="31.4">13</text></g>
</g>
<g id="row-C">
<g id="C1" transform="translate(129.2,1315)"><rect class="r" width="37" height="38.4"/><text x="19.5" y="30.4">1</text></g>
<g id="C2" transform="translate(177.5,1315)"><rect class="r" width="37" height="38.4"/><text x="19.5" y="31.4">2</text></g>
<g id="C3" transform="translate(225.8,1315)"><rect class="r" width="37" height="38.4"/><text x="19.5" y="31.4">3</text></g>
<g id="C4" transform="translate(275.2,1315)"><rect class="r" width="37" height="38.4"/><text x="19.5" y="31.4">4</text></g>
<g id="C5" transform="translate(323.5,1315)"><rect class="r" width="37" height="38.4"/><text x="19.5" y="31.4">5</text></g>
<g id="C6" transform="translate(371.8,1315)"><rect class="r" width="37" height="38.4"/><text x="19.5" y="31.4">6</text></g>
<g id="C7" transform="translate(420.1,1315)"><rect class="r" width="37" height="38.4"/><text x="19.5" y="31.4">7</text></g>
<g id="C8" transform="translate(468.9,1315)"><rect class="r" width="37" height="38.4"/><text x="19.5" y="31.4">8</text></g>
<g id="C9" transform="translate(517.2,1315)"><rect class="r" width="37" height="38.4"/><text x="19.5" y="31.4">9</text></g>
<g id="C10" transform="translate(565.5,1315)"><rect class="r" width="37" height="38.4"/><text class="d" x="19.5" y="31.4">10</text></g>
<g id="C11" transform="translate(614.4,1315)"><rect class="r" width="37" height="38.4"/><text class="d" x="19.5" y="31.4">11</text></g>
<g id="C12" transform="translate(662.7,1315)"><rect class="r" width="37" height="38.4"/><text class="d" x="19.5" y="31.4">12</text></g>
<g id="C13" transform="translate(711.6,1315)"><rect class="r" width="37" height="38.4"/><text class="d" x="19.5" y="31.4">13</text></g>
<g id="C14" transform="translate(759.8,1315)"><rect class="r" width="37" height="38.4"/><text class="d" x="19.5" y="34.4">14</text></g>
</g>
<g id="row-B">
<g id="B1" transform="translate(150.3,1361.7)"><rect class="r" width="37" height="38.4"/><text x="19.5" y="31.4">1</text></g>
<g id="B2" transform="translate(198.6,1361.7)"><rect class="r" width="37" height="38.4"/><text x="19.5" y="31.4">2</text></g>
<g id="B3" transform="translate(247,1361.7)"><rect class="r" width="37" height="38.4"/><text x="19.5" y="31.4">3</text></g>
<g id="B4" transform="translate(295.8,1361.7)"><rect class="r" width="37" height="38.4"/><text x="19.5" y="31.4">4</text></g>
<g id="B5" transform="translate(344.1,1361.7)"><rect class="r" width="37" height="38.4"/><text x="19.5" y="31.4">5</text></g>
<g id="B6" transform="translate(392.4,1361.7)"><rect class="r" width="37" height="38.4"/><text x="19.5" y="31.4">6</text></g>
<g id="B7" transform="translate(441.3,1361.7)"><rect class="r" width="37" height="38.4"/><text x="19.5" y="31.4">7</text></g>
<g id="B8" transform="translate(489.6,1361.7)"><rect class="r" width="37" height="38.4"/><text x="19.5" y="31.4">8</text></g>
<g id="B9" transform="translate(537.8,1361.7)"><rect class="r" width="37" height="38.4"/><text x="19.5" y="31.4">9</text></g>
<g id="B10" transform="translate(586.2,1361.7)"><rect class="r" width="37" height="38.4"/><text class="d" x="19.5" y="31.4">10</text></g>
<g id="B11" transform="translate(635,1361.7)"><rect class="r" width="37" height="38.4"/><text class="d" x="19.5" y="31.4">11</text></g>
<g id="B12" transform="translate(683.3,1361.7)"><rect class="r" width="37" height="38.4"/><text class="d" x="19.5" y="31.4">12</text></g>
<g id="B13" transform="translate(731.6,1361.7)"><rect class="r" width="37" height="38.4"/><text class="d" x="19.5" y="31.4">13</text></g>
</g>
<g id="row-A">
<g id="A1" transform="translate(182.9,1414.3)"><rect class="r" width="37" height="38.4"/><text x="19.5" y="32.4">1</text></g>
<g id="A2" transform="translate(229.6,1414.3)"><rect class="r" width="37" height="38.4"/><text x="19.5" y="31.4">2</text></g>
<g id="A3" transform="translate(276.8,1414.3)"><rect class="r" width="37" height="38.4"/><text x="19.5" y="32.4">3</text></g>
<g id="A4" transform="translate(324,1414.3)"><rect class="r" width="37" height="38.4"/><text x="19.5" y="32.4">4</text></g>
<g id="A5" transform="translate(371.2,1414.3)"><rect class="r" width="37" height="38.4"/><text x="19.5" y="32.4">5</text></g>
<g id="A6" transform="translate(417.9,1414.3)"><rect class="r" width="37" height="38.4"/><text x="19.5" y="32.4">6</text></g>
<g id="A7" transform="translate(465.1,1414.3)"><rect class="r" width="37" height="38.4"/><text x="19.5" y="32.4">7</text></g>
<g id="A8" transform="translate(511.8,1414.3)"><rect class="r" width="37" height="38.4"/><text x="19.5" y="32.4">8</text></g>
<g id="A9" transform="translate(558.5,1414.3)"><rect class="r" width="37" height="38.4"/><text x="19.5" y="35.4">9</text></g>
<g id="A10" transform="translate(605.7,1414.3)"><rect class="r" width="37" height="38.4"/><text class="d" x="19.5" y="31.4">10</text></g>
<g id="A11" transform="translate(652.4,1414.3)"><rect class="r" width="37" height="38.4"/><text class="d" x="19.5" y="31.4">11</text></g>
<g id="A12" transform="translate(699,1414.3)"><rect class="r" width="37" height="38.4"/><text class="d" x="19.5" y="31.4">12</text></g>
</g>
</g>
<g id="stage">
<rect x="28" y="1517" width="850" height="160" rx="50" ry="50" fill="#8f8f8f"/>
<text class="title" x="442.4" y="1575" font-size="68" textLength="168" lengthAdjust="spacingAndGlyphs">Stage</text>
</g>
</svg>
